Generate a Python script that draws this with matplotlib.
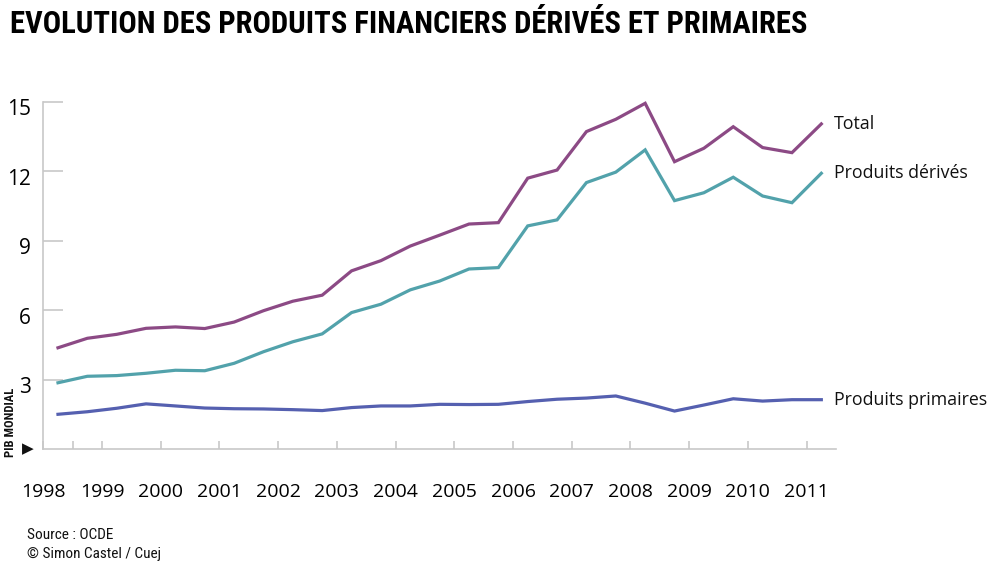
import matplotlib
matplotlib.use("Agg")
import matplotlib.pyplot as plt
import matplotlib.transforms as mtransforms
from matplotlib import font_manager

# half-year readings, 1998.25 .. 2011.25
periods = [1998.25 + 0.5 * k for k in range(27)]
total = [4.38, 4.79, 4.96, 5.22, 5.28, 5.21, 5.49, 5.98, 6.39, 6.65,
         7.70, 8.14, 8.77, 9.24, 9.72, 9.78, 11.70, 12.05, 13.71, 14.24,
         14.93, 12.41, 12.99, 13.92, 13.02, 12.80, 14.04]
derives = [2.87, 3.15, 3.18, 3.28, 3.41, 3.39, 3.71, 4.21, 4.64, 4.98,
           5.90, 6.26, 6.88, 7.26, 7.78, 7.84, 9.64, 9.90, 11.51, 11.96,
           12.92, 10.73, 11.07, 11.74, 10.93, 10.64, 11.91]
primaires = [1.51, 1.62, 1.77, 1.96, 1.87, 1.78, 1.75, 1.74, 1.71, 1.67,
             1.80, 1.87, 1.87, 1.94, 1.93, 1.94, 2.06, 2.16, 2.21, 2.30,
             1.99, 1.65, 1.91, 2.18, 2.08, 2.14, 2.14]

years = list(range(1998, 2012))
y_ticks = [3, 6, 9, 12, 15]

series = [
    ("Total", total, "#8c4a85"),
    ("Produits dérivés", derives, "#52a2ab"),
    ("Produits primaires", primaires, "#5560b0"),
]

installed = set(f.name for f in font_manager.fontManager.ttflist)

def pick(*names):
    for n in names:
        if n in installed:
            return n
    return "DejaVu Sans"

body_font = pick("Open Sans", "Noto Sans", "Lato")
narrow_font = pick("Liberation Sans Narrow", "Roboto Condensed", "DejaVu Sans")

grey = "#c8c8c8"

fig = plt.figure(figsize=(10, 5.69), dpi=100)
ax = fig.add_axes([0.0433, 0.2104, 0.7927, 0.6109])

end_labels = []
for name, vals, col in series:
    ax.plot(periods, vals, color=col, lw=2.3, solid_joinstyle="miter",
            clip_on=False)
    t = ax.annotate(name, xy=(periods[-1], vals[-1]), xytext=(9, 0),
                    textcoords="offset points", va="center", ha="left",
                    fontsize=14, family=body_font, color="#111111")
    end_labels.append(t)

ax.set_xlim(1998.0, 2011.5)
ax.set_ylim(0, 15)

for s in ["top", "right"]:
    ax.spines[s].set_visible(False)
for s in ["left", "bottom"]:
    ax.spines[s].set_color(grey)
    ax.spines[s].set_linewidth(1.2)

ax.set_yticks(y_ticks)
ax.set_yticklabels([str(v) for v in y_ticks], family=body_font, fontsize=15)
ax.tick_params(axis="y", direction="in", length=14.4, width=1.2,
               color=grey, pad=9)
shift = mtransforms.ScaledTranslation(0, -4 / 72, fig.dpi_scale_trans)
for lab in ax.get_yticklabels():
    lab.set_transform(lab.get_transform() + shift)

ax.set_xticks(years)
ax.set_xticklabels([str(y) for y in years], family=body_font, fontsize=14)
ax.tick_params(axis="x", which="major", direction="in", length=5.8,
               width=1.2, color=grey, pad=24)
ax.set_xticks([1998.5], minor=True)
ax.tick_params(axis="x", which="minor", direction="in", length=5.8,
               width=1.2, color=grey)

fig.text(0.0275, 1 - 449 / 569, "\u25b6", fontsize=11, ha="center",
         va="center", family="DejaVu Sans", color="#111111")
fig.text(0.011, 1 - 457 / 569, "PIB MONDIAL", rotation=90, fontsize=9,
         ha="center", va="bottom", family=narrow_font, weight="bold",
         color="#111111")

title = fig.text(0.010, 1 - 24 / 569, "EVOLUTION DES PRODUITS FINANCIERS DÉRIVÉS ET PRIMAIRES",
                 fontsize=22, weight="bold", family=narrow_font, va="center",
                 ha="left", color="#000000")
fig.text(0.027, 1 - 539 / 569, "Source : OCDE", fontsize=11,
         family=narrow_font, va="baseline", color="#111111")
fig.text(0.027, 1 - 558 / 569, "\u00a9 Simon Castel / Cuej", fontsize=11,
         family=narrow_font, va="baseline", color="#111111")

# squeeze title and end labels to the widths they take in the original
fig.canvas.draw()
w = title.get_window_extent().width
title.set_fontsize(22 * 798 / w)
w = end_labels[2].get_window_extent().width
for t in end_labels:
    t.set_fontsize(14 * 154 / w)

fig.savefig("out.png", dpi=100)
